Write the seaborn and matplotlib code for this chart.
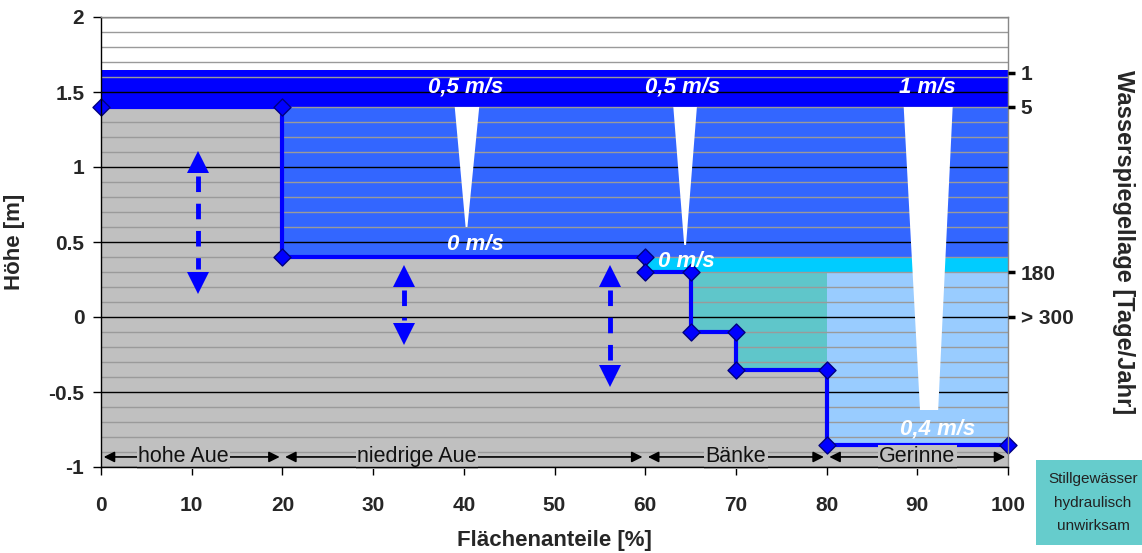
import numpy as np
import pandas as pd
import matplotlib
matplotlib.use("Agg")
import matplotlib.pyplot as plt
import seaborn as sns
from matplotlib.patches import Polygon, Rectangle

# ---------------- data ----------------
# terrain profile (step function): area share [%] vs. height [m]
step_x = [0, 20, 60, 65, 70, 80, 100]
step_y = [1.4, 0.4, 0.3, -0.1, -0.35, -0.85, -0.85]

# water bands (x-range and height range)
band_x0 = [0, 20, 60, 65, 80]
band_x1 = [100, 100, 100, 80, 100]
band_y0 = [1.4, 0.4, 0.3, -0.35, -0.85]
band_y1 = [1.65, 1.4, 0.4, 0.3, 0.3]
band_colors = ["#0000FF", "#3366FF", "#00CCFF", "#5FC6CA", "#99CCFF"]

# floodplain zones
zone_names = ["hohe Aue", "niedrige Aue", "Bänke", "Gerinne"]
zone_bounds = [0, 20, 60, 80, 100]
zone_label_x = [9.1, 34.8, 70.0, 90.0]

# right axis: water level duration
level_days = ["1", "5", "180", "> 300"]
level_heights = [1.63, 1.40, 0.30, 0.0]

# velocity profiles (wedges)
wedge_top_left = [39.0, 63.1, 88.5]
wedge_top_right = [41.7, 65.7, 93.9]
wedge_bot_left = [40.2, 64.3, 90.3]
wedge_bot_right = [40.4, 64.5, 92.3]
wedge_top_y = [1.4, 1.4, 1.4]
wedge_bot_y = [0.6, 0.48, -0.62]
v_top_labels = ["0,5 m/s", "0,5 m/s", "1 m/s"]
v_top_x = [40.2, 64.1, 91.1]
v_bot_labels = ["0 m/s", "0 m/s", "0,4 m/s"]
v_bot_x = [41.3, 64.5, 92.2]
v_bot_y = [0.48, 0.37, -0.75]

# vertical exchange arrows
arrow_x = [10.7, 33.4, 56.1]
arrow_top = [1.11, 0.35, 0.35]
arrow_bottom = [0.15, -0.19, -0.47]

# legend
legend_lines = ["Stillgewässer", "hydraulisch", "unwirksam"]

# ---------------- style ----------------
sns.set_theme(style="white")
plt.rcParams["font.family"] = ["Liberation Sans", "DejaVu Sans"]

fig = plt.figure(figsize=(11.42, 5.53), dpi=100)
ax = fig.add_axes([101 / 1142, 1 - 467 / 553, 907 / 1142, 450 / 553])
ax.set_xlim(0, 100)
ax.set_ylim(-1, 2)

# water bands
for x0, x1, y0, y1, c in zip(band_x0, band_x1, band_y0, band_y1, band_colors):
    ax.fill_between([x0, x1], y0, y1, color=c, linewidth=0, zorder=1)

# ground (grey) below the terrain line
ax.fill_between(step_x, -1, step_y, step="post", color="#C0C0C0",
                linewidth=0, zorder=1.2)

# grid lines
ax.set_yticks(np.arange(-1, 2.01, 0.5))
ax.set_yticks(np.arange(-1, 2.01, 0.1), minor=True)
ax.grid(which="minor", axis="y", color="#9A9A9A", linewidth=1.0)
ax.grid(which="major", axis="y", color="black", linewidth=1.0)
ax.set_axisbelow(False)
ax.tick_params(axis="y", which="minor", length=0)

# velocity wedges
for tl, tr, bl, br, ty, by in zip(wedge_top_left, wedge_top_right, wedge_bot_left,
                                  wedge_bot_right, wedge_top_y, wedge_bot_y):
    ax.add_patch(Polygon([(tl, ty), (tr, ty), (br, by), (bl, by)], closed=True,
                         facecolor="white", edgecolor="none", zorder=3))

# terrain line
prof = pd.DataFrame({"x": step_x, "y": step_y})
sns.lineplot(data=prof, x="x", y="y", ax=ax, drawstyle="steps-post",
             color="#0000FF", linewidth=3, zorder=4)
corner_x, corner_y = [step_x[0]], [step_y[0]]
for i in range(1, len(step_x)):
    corner_x += [step_x[i], step_x[i]]
    corner_y += [step_y[i - 1], step_y[i]]
corners = pd.DataFrame({"x": corner_x, "y": corner_y}).drop_duplicates()
sns.scatterplot(data=corners, x="x", y="y", ax=ax, marker="D", s=75,
                color="#0000FF", edgecolor="#000080", linewidth=1, zorder=5,
                clip_on=False)

# velocity labels
for lab, x in zip(v_top_labels, v_top_x):
    ax.text(x, 1.53, lab, color="white", fontsize=16, fontweight="bold",
            fontstyle="italic", ha="center", va="center", zorder=6)
for lab, x, y in zip(v_bot_labels, v_bot_x, v_bot_y):
    ax.text(x, y, lab, color="white", fontsize=16, fontweight="bold",
            fontstyle="italic", ha="center", va="center", zorder=6)

# exchange arrows (dashed shaft, triangular heads)
head = 0.147
for x, yt, yb in zip(arrow_x, arrow_top, arrow_bottom):
    ax.plot([x, x], [yt - head - 0.02, yb + head + 0.02], color="#0000FF",
            linewidth=3.5, linestyle=(0, (3.2, 2.4)), zorder=4,
            solid_capstyle="butt", dash_capstyle="butt")
    ax.plot([x], [yt - head / 2], marker="^", markersize=16, color="#0000FF",
            markeredgewidth=0, zorder=4)
    ax.plot([x], [yb + head / 2], marker="v", markersize=16, color="#0000FF",
            markeredgewidth=0, zorder=4)

# zone labels with double arrows
zy = -0.933
for name, x0, x1, lx in zip(zone_names, zone_bounds[:-1], zone_bounds[1:], zone_label_x):
    ax.annotate("", xy=(x1 - 0.3, zy), xytext=(x0 + 0.3, zy),
                arrowprops=dict(arrowstyle="<|-|>", color="black", lw=1.2,
                                mutation_scale=16, shrinkA=0, shrinkB=0),
                zorder=6)
    ax.text(lx, zy, name, fontsize=15.5, ha="center", va="center", color="#111111",
            bbox=dict(facecolor="#C0C0C0", edgecolor="none", pad=1.0), zorder=7)

# axes, ticks, labels
ax.set_xticks(np.arange(0, 101, 10))
ax.set_xticklabels([str(v) for v in range(0, 101, 10)])
ax.set_yticklabels(["-1", "-0.5", "0", "0.5", "1", "1.5", "2"])
ax.tick_params(axis="x", which="major", direction="out", length=6, width=1,
               color="black", pad=15, labelsize=15, bottom=True)
ax.tick_params(axis="y", which="major", direction="out", length=6, width=1,
               color="black", pad=6, labelsize=15, left=True)
for lab in ax.get_xticklabels() + ax.get_yticklabels():
    lab.set_fontweight("bold")
ax.set_xlabel("Flächenanteile [%]", fontsize=16, fontweight="bold")
ax.set_ylabel("Höhe [m]", fontsize=16, fontweight="bold")
ax.xaxis.set_label_coords(0.5, -0.14)
ax.yaxis.set_label_coords(-0.084, 0.5)

ax.spines["left"].set_color("black")
ax.spines["bottom"].set_color("black")
ax.spines["top"].set_color("#888888")
ax.spines["right"].set_color("#888888")
for s in ax.spines.values():
    s.set_linewidth(1.0)
    s.set_zorder(8)

# right axis: water level duration
ax2 = ax.twinx()
ax2.set_ylim(ax.get_ylim())
ax2.set_yticks(level_heights)
ax2.set_yticklabels(level_days)
ax2.tick_params(axis="y", direction="out", length=5, width=2.5, color="black",
                pad=4, labelsize=15, right=True)
for lab in ax2.get_yticklabels():
    lab.set_fontweight("bold")
for s in ax2.spines.values():
    s.set_visible(False)
ax2.grid(False)
ax2.set_ylabel("Wasserspiegellage [Tage/Jahr]", fontsize=17, fontweight="bold",
               rotation=-90, va="center")
ax2.yaxis.set_label_coords(1.127, 0.5)

# legend box (runs to the figure edge, as in the original)
fig.patches.append(Rectangle((1036 / 1142, 8 / 553), 0.2, 85 / 553,
                             transform=fig.transFigure, facecolor="#66CCCC",
                             edgecolor="none", zorder=0))
for line, yp in zip(legend_lines, [479, 503, 526]):
    fig.text(1093 / 1142, 1 - yp / 553, line, fontsize=11, ha="center",
             va="center", color="#222222")

fig.savefig("out.png", dpi=100)
